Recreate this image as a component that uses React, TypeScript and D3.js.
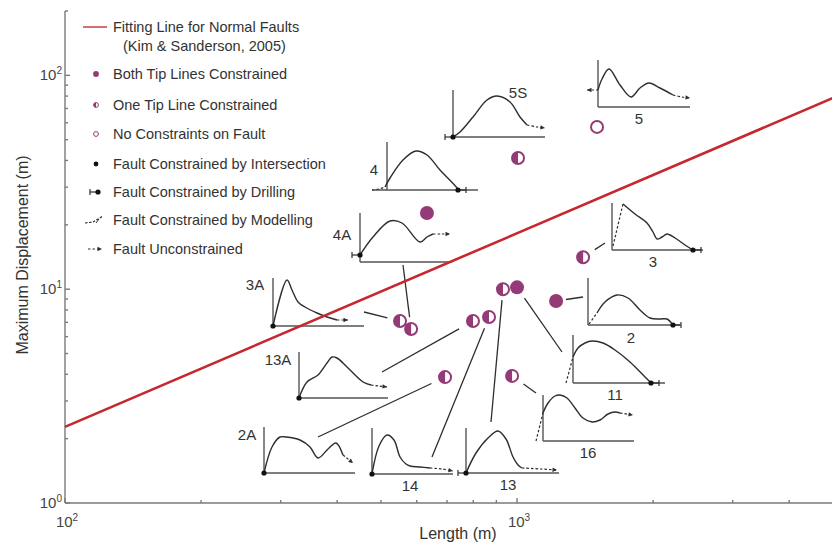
import React, { useEffect, useRef } from 'react';
import * as d3 from 'd3';

type Pt = [number, number];

const WIDTH = 832;
const HEIGHT = 549;

// Fitting line for normal faults (Kim & Sanderson, 2005)
const fitLength = [100, 5000];
const fitDisplacement = [2.27, 78.4];

// Faults: id, length (m), max displacement (m), tip-line constraint
const faultIds = ['4', '5S', '5', '3', '13', '11', '2', '3A', '4A', '13A', '14', '2A', '16'];
const faultLength = [632, 1005, 1503, 1400, 931, 1000, 1220, 551, 583, 799, 867, 693, 975];
const faultDisplacement = [22.7, 41.1, 57.4, 14.1, 10.0, 10.2, 8.81, 7.1, 6.51, 7.1, 7.41, 3.88, 3.93];
const faultConstraint = ['both', 'one', 'none', 'one', 'one', 'both', 'both', 'one', 'one', 'one', 'one', 'one', 'one'];

// Axis ticks
const xMajor = [100, 1000];
const xMinor = [200, 300, 400, 500, 600, 700, 800, 900, 2000, 3000, 4000];
const yMajor = [1, 10, 100];
const yMinor = [2, 3, 4, 5, 6, 7, 8, 9, 20, 30, 40, 50, 60, 70, 80, 90, 200];
const xTickExp = ['2', '3'];
const yTickExp = ['0', '1', '2'];

const legendKeys = ['both', 'one', 'none', 'intersection', 'drilling', 'modelling', 'free'];
const legendLabels = [
  'Both Tip Lines Constrained',
  'One Tip Line Constrained',
  'No Constraints on Fault',
  'Fault Constrained by Intersection',
  'Fault Constrained by Drilling',
  'Fault Constrained by Modelling',
  'Fault Unconstrained',
];

// Displacement profile sketches (sketch units, origin at inset corner, y up)
interface Profile {
  id: string;
  corner: Pt;
  w: number;
  h: number;
  base0?: number;
  head?: Pt[];
  headArrow?: boolean;
  solid: Pt[];
  tail?: Pt[];
  startMark?: 'dot' | 'drill';
  endMark?: 'dot' | 'drill';
  label: Pt;
  leaderEnd?: Pt;
  gap?: number;
}

const profiles: Profile[] = [
  { id: '5S', corner: [453, 137], w: 92, h: 47,
    solid: [[0, 0], [7, 5], [20, 20], [34, 37], [44, 41], [57, 35], [67, 20], [74, 12]],
    tail: [[84, 10], [92, 9]], startMark: 'drill', label: [65, 44] },
  { id: '4', corner: [387, 190], w: 91, h: 48, base0: -15,
    head: [[-15, 0], [-8, 1]],
    solid: [[-2, 3], [3, 12], [16, 30], [29, 39], [40, 35], [53, 20], [70, 2], [71, 0]],
    endMark: 'drill', label: [-13, 20] },
  { id: '4A', corner: [360, 262], w: 92, h: 49,
    solid: [[0, 7], [13, 25], [30, 41], [42, 39], [60, 20], [67, 25], [73, 28]],
    tail: [[82, 28], [90, 28]], startMark: 'drill', label: [-18, 27], leaderEnd: [403, 265], gap: 12 },
  { id: '5', corner: [598, 107], w: 92, h: 47,
    head: [[-11, 17]], headArrow: true,
    solid: [[0, 17], [4, 28], [11, 38], [22, 22], [33, 10], [42, 19], [51, 24], [62, 19], [75, 12]],
    tail: [[84, 10], [92, 9]], label: [41, -12] },
  { id: '3', corner: [612, 250], w: 91, h: 47,
    head: [[1, 4]],
    solid: [[11, 46], [23, 36], [35, 27], [41, 18], [45, 11], [50, 13], [55, 16], [63, 12], [73, 5], [81, 0]],
    endMark: 'drill', label: [41, -12], leaderEnd: [605, 243], gap: 14 },
  { id: '3A', corner: [273, 326], w: 91, h: 48,
    solid: [[0, 0], [14, 46], [19, 36], [25, 24], [32, 19], [44, 13], [54, 9], [64, 6]],
    tail: [[75, 6]], startMark: 'dot', label: [-18, 41], leaderEnd: [364, 312], gap: 13 },
  { id: '13A', corner: [299, 398], w: 89, h: 46,
    solid: [[0, 0], [8, 16], [19, 23], [28, 35], [33, 41], [38, 40], [48, 31], [64, 16], [72, 13]],
    tail: [[80, 12], [88, 11]], startMark: 'dot', label: [-21, 38], leaderEnd: [382, 372], gap: 16 },
  { id: '2A', corner: [264, 473], w: 91, h: 46,
    solid: [[0, 0], [8, 26], [16, 36], [22, 36], [36, 33], [46, 26], [54, 15], [64, 24], [72, 30], [79, 18]],
    tail: [[89, 10]], startMark: 'dot', label: [-17, 38], leaderEnd: [318, 437], gap: 15 },
  { id: '14', corner: [372, 474], w: 81, h: 46,
    solid: [[0, 0], [7, 28], [15, 39], [22, 34], [28, 17], [34, 10], [38, 8], [48, 7], [58, 6]],
    tail: [[70, 5], [81, 3]], startMark: 'dot', label: [38, -12], leaderEnd: [432, 457], gap: 12 },
  { id: '13', corner: [466, 473], w: 93, h: 45,
    solid: [[0, 0], [10, 20], [22, 35], [32, 42], [40, 34], [47, 16], [52, 8], [56, 5]],
    tail: [[75, 4], [91, 3]], startMark: 'drill', label: [42, -12], leaderEnd: [491, 422], gap: 11 },
  { id: '16', corner: [543, 441], w: 91, h: 46,
    head: [[-7, 0]],
    solid: [[0, 28], [5, 38], [12, 45], [17, 46], [24, 43], [32, 33], [40, 23], [49, 19], [57, 21], [65, 27], [72, 29], [77, 28]],
    tail: [[90, 26]], label: [45, -12], leaderEnd: [536, 393], gap: 14 },
  { id: '2', corner: [588, 325], w: 92, h: 47,
    head: [[1, 1]],
    solid: [[9, 12], [17, 23], [29, 30], [40, 27], [52, 15], [62, 7], [72, 6], [79, 6], [85, 0]],
    endMark: 'drill', label: [43, -13], leaderEnd: [583, 297], gap: 10 },
  { id: '11', corner: [573, 383], w: 92, h: 48,
    head: [[-7, 0]],
    solid: [[0, 26], [5, 35], [12, 40], [19, 42], [30, 40], [42, 33], [57, 21], [72, 6], [78, 0]],
    endMark: 'drill', label: [42, -12], leaderEnd: [562, 352], gap: 13 },
];

const FONT = '"Liberation Sans", Arial, Helvetica, sans-serif';
const PURPLE = '#943a77';
const RED = '#c5282f';
const INK = '#2e2e2e';
const AXIS = '#7a7a7a';
const TEXT = '#333';
const LEGEND_SIZE = 14.5;

export default function App() {
  const svgRef = useRef<SVGSVGElement>(null);

  useEffect(() => {
    if (!svgRef.current) return;
    const svg = d3.select(svgRef.current);
    svg.selectAll('*').remove();
    svg.attr('font-family', FONT);

    const x = d3.scaleLog().domain([100, 5000]).range([65, 833]);
    const y = d3.scaleLog().domain([1, 200]).range([503, 11]);
    const [x0] = x.range();
    const [y0, yTop] = y.range();

    // Axes
    const axes = svg.append('g').attr('stroke', AXIS).attr('stroke-width', 1.4);
    axes.append('line').attr('x1', x0).attr('x2', 833).attr('y1', y0).attr('y2', y0);
    axes.append('line').attr('x1', x0).attr('x2', x0).attr('y1', y0).attr('y2', yTop);
    [...xMajor.map(v => [v, 5]), ...xMinor.map(v => [v, 3])].forEach(([v, len]) => {
      axes.append('line').attr('x1', x(v)).attr('x2', x(v)).attr('y1', y0).attr('y2', y0 - len);
    });
    [...yMajor.map(v => [v, 5]), ...yMinor.map(v => [v, 3])].forEach(([v, len]) => {
      axes.append('line').attr('x1', x0).attr('x2', x0 + len).attr('y1', y(v)).attr('y2', y(v));
    });

    const powerLabel = (px: number, py: number, exp: string, anchor: string) => {
      const t = svg.append('text')
        .attr('x', px).attr('y', py)
        .attr('text-anchor', anchor)
        .attr('font-size', 15)
        .attr('fill', '#444');
      t.append('tspan').text('10');
      t.append('tspan').attr('dy', -6).attr('font-size', 10).text(exp);
    };
    yMajor.forEach((v, i) => powerLabel(x0 - 3, y(v) + 5, yTickExp[i], 'end'));
    xMajor.forEach((v, i) => powerLabel(x(v) + 2, 527, xTickExp[i], 'middle'));

    svg.append('text')
      .attr('x', 458).attr('y', 539)
      .attr('text-anchor', 'middle')
      .attr('font-size', 16)
      .attr('fill', TEXT)
      .text('Length (m)');
    svg.append('text')
      .attr('transform', 'translate(28,255) rotate(-90)')
      .attr('text-anchor', 'middle')
      .attr('font-size', 16)
      .attr('fill', TEXT)
      .text('Maximum Displacement (m)');

    const arrowHead = (g: d3.Selection<SVGGElement, unknown, null, undefined>, a: Pt, b: Pt) => {
      const dx = b[0] - a[0];
      const dy = b[1] - a[1];
      const len = Math.hypot(dx, dy) || 1;
      const ux = dx / len;
      const uy = dy / len;
      const L = 4.5;
      const W = 2.2;
      const pts = [
        [b[0], b[1]],
        [b[0] - ux * L - uy * W, b[1] - uy * L + ux * W],
        [b[0] - ux * L + uy * W, b[1] - uy * L - ux * W],
      ];
      g.append('path').attr('d', `M${pts.map(p => p.join(',')).join('L')}Z`).attr('fill', INK);
    };

    const drill = (g: d3.Selection<SVGGElement, unknown, null, undefined>, p: Pt, dir: number) => {
      g.append('line')
        .attr('x1', p[0]).attr('x2', p[0] + dir * 8)
        .attr('y1', p[1]).attr('y2', p[1])
        .attr('stroke', INK).attr('stroke-width', 1.2);
      g.append('line')
        .attr('x1', p[0] + dir * 8).attr('x2', p[0] + dir * 8)
        .attr('y1', p[1] - 3).attr('y2', p[1] + 3)
        .attr('stroke', INK).attr('stroke-width', 1.2);
      g.append('circle').attr('cx', p[0]).attr('cy', p[1]).attr('r', 2.6).attr('fill', '#111');
    };

    // Displacement profile insets
    const faultIndex = new Map(faultIds.map((id, i) => [id, i]));
    const insets = svg.append('g');
    profiles.forEach(p => {
      const [cx, cy] = p.corner;
      const sx = d3.scaleLinear().domain([0, p.w]).range([cx, cx + p.w]);
      const sy = d3.scaleLinear().domain([0, p.h]).range([cy, cy - p.h]);
      const px = (d: Pt): Pt => [sx(d[0]), sy(d[1])];
      const g = insets.append('g');

      g.append('line')
        .attr('x1', sx(0)).attr('x2', sx(0)).attr('y1', sy(0)).attr('y2', sy(p.h))
        .attr('stroke', '#555').attr('stroke-width', 1.4);
      g.append('line')
        .attr('x1', sx(p.base0 ?? 0)).attr('x2', sx(p.w)).attr('y1', sy(0)).attr('y2', sy(0))
        .attr('stroke', '#555').attr('stroke-width', 1.4);

      const smooth = d3.line<Pt>().x(d => sx(d[0])).y(d => sy(d[1])).curve(d3.curveCatmullRom.alpha(0.5));

      g.append('path').attr('d', smooth(p.solid))
        .attr('fill', 'none').attr('stroke', INK).attr('stroke-width', 1.4);

      if (p.head) {
        const pts = [...p.head, p.solid[0]];
        g.append('path').attr('d', smooth(pts))
          .attr('fill', 'none').attr('stroke', INK).attr('stroke-width', 1.2)
          .attr('stroke-dasharray', '2.5,2');
        if (p.headArrow) arrowHead(g, px(pts[1]), px(pts[0]));
      }
      if (p.tail) {
        const pts = [p.solid[p.solid.length - 1], ...p.tail];
        g.append('path').attr('d', smooth(pts))
          .attr('fill', 'none').attr('stroke', INK).attr('stroke-width', 1.2)
          .attr('stroke-dasharray', '2.5,2');
        arrowHead(g, px(pts[pts.length - 2]), px(pts[pts.length - 1]));
      }
      const first = px(p.solid[0]);
      const last = px(p.solid[p.solid.length - 1]);
      if (p.startMark === 'dot') g.append('circle').attr('cx', first[0]).attr('cy', first[1]).attr('r', 2.6).attr('fill', '#111');
      if (p.startMark === 'drill') drill(g, first, -1);
      if (p.endMark === 'dot') g.append('circle').attr('cx', last[0]).attr('cy', last[1]).attr('r', 2.6).attr('fill', '#111');
      if (p.endMark === 'drill') drill(g, last, 1);

      g.append('text')
        .attr('x', sx(p.label[0])).attr('y', sy(p.label[1]) + 5)
        .attr('text-anchor', 'middle')
        .attr('font-size', 15)
        .attr('fill', TEXT)
        .text(p.id);

      const fi = faultIndex.get(p.id);
      if (p.leaderEnd && fi !== undefined) {
        const mx = x(faultLength[fi]);
        const my = y(faultDisplacement[fi]);
        const [ex, ey] = p.leaderEnd;
        const len = Math.hypot(ex - mx, ey - my);
        const gap = p.gap ?? 12;
        g.append('line')
          .attr('x1', mx + ((ex - mx) / len) * gap).attr('y1', my + ((ey - my) / len) * gap)
          .attr('x2', ex).attr('y2', ey)
          .attr('stroke', INK).attr('stroke-width', 1.3);
      }
    });

    // Fitting line
    const fitData = fitLength.map((l, i) => [l, fitDisplacement[i]] as Pt);
    svg.append('path')
      .datum(fitData)
      .attr('d', d3.line<Pt>().x(d => x(d[0])).y(d => y(d[1])))
      .attr('fill', 'none')
      .attr('stroke', RED)
      .attr('stroke-width', 2.6);

    // Fault markers
    const halfArc = (r: number) => d3.arc()({ innerRadius: 0, outerRadius: r, startAngle: Math.PI, endAngle: 2 * Math.PI }) as string;
    const drawMarker = (g: d3.Selection<SVGGElement, unknown, null, undefined>, kind: string, cx: number, cy: number, r: number, sw: number) => {
      if (kind === 'both') {
        g.append('circle').attr('cx', cx).attr('cy', cy).attr('r', r + sw / 2).attr('fill', PURPLE);
        return;
      }
      g.append('circle').attr('cx', cx).attr('cy', cy).attr('r', r)
        .attr('fill', '#fff').attr('stroke', PURPLE).attr('stroke-width', sw);
      if (kind === 'one') {
        g.append('path').attr('d', halfArc(r)).attr('transform', `translate(${cx},${cy})`).attr('fill', PURPLE);
      }
    };
    const markers = svg.append('g');
    faultLength.forEach((l, i) => {
      drawMarker(markers, faultConstraint[i], x(l), y(faultDisplacement[i]), 6, 2);
    });

    // Legend
    const legend = svg.append('g');
    legend.append('line').attr('x1', 83).attr('x2', 107).attr('y1', 27).attr('y2', 27)
      .attr('stroke', '#d0494c').attr('stroke-width', 1.6);
    legend.append('text').attr('x', 113).attr('y', 32).attr('font-size', LEGEND_SIZE).attr('fill', TEXT)
      .text('Fitting Line for Normal Faults');
    legend.append('text').attr('x', 123).attr('y', 51).attr('font-size', LEGEND_SIZE).attr('fill', TEXT)
      .text('(Kim & Sanderson, 2005)');
    const legendY = [74, 105, 134, 164, 192, 220, 249];
    legendKeys.forEach((key, i) => {
      const ly = legendY[i];
      const sym = legend.append('g');
      if (key === 'both' || key === 'one' || key === 'none') {
        drawMarker(sym, key, 96, ly, 2.4, 1);
      } else if (key === 'intersection') {
        sym.append('circle').attr('cx', 96).attr('cy', ly).attr('r', 2.4).attr('fill', '#111');
      } else if (key === 'drilling') {
        drill(sym, [98, ly], -1);
      } else if (key === 'modelling') {
        sym.append('path').attr('d', `M85,${ly + 3}L93,${ly + 2}L103,${ly - 4}`)
          .attr('fill', 'none').attr('stroke', INK).attr('stroke-width', 1.2).attr('stroke-dasharray', '2.5,1.5');
        sym.append('line').attr('x1', 96).attr('x2', 99).attr('y1', ly + 3).attr('y2', ly - 1)
          .attr('stroke', INK).attr('stroke-width', 1);
      } else if (key === 'free') {
        sym.append('line').attr('x1', 88).attr('x2', 99).attr('y1', ly).attr('y2', ly)
          .attr('stroke', INK).attr('stroke-width', 1.2).attr('stroke-dasharray', '2.5,2');
        arrowHead(sym, [95, ly], [102, ly]);
      }
      legend.append('text').attr('x', 113).attr('y', ly + 5).attr('font-size', LEGEND_SIZE).attr('fill', TEXT)
        .text(legendLabels[i]);
    });
  }, []);

  return (
    <svg
      ref={svgRef}
      width={WIDTH}
      height={HEIGHT}
      style={{ position: 'absolute', left: 0, top: 0, background: '#fff' }}
    />
  );
}
